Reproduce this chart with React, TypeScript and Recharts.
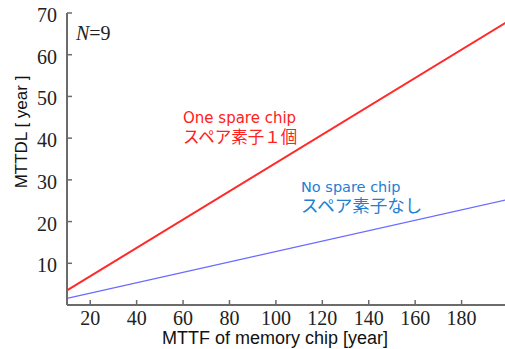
import React from 'react';
import { LineChart, Line, XAxis, YAxis } from 'recharts';

const mttfYears = [10, 200];
const oneSpareMttdl = [3.5, 68];
const noSpareMttdl = [1.6, 25.3];
const xTicks = [20, 40, 60, 80, 100, 120, 140, 160, 180];
const yTicks = [10, 20, 30, 40, 50, 60, 70];

const data = mttfYears.map((x, i) => ({ x, one: oneSpareMttdl[i], none: noSpareMttdl[i] }));

const FRAME = '#6b6b6b';
const SERIF = '"Liberation Serif", "DejaVu Serif", serif';
const SANS = '"Liberation Sans", Arial, sans-serif';
const LATIN = '"DejaVu Sans", "Noto Sans", sans-serif';
const CJK = '"Noto Sans CJK JP", "Noto Sans", sans-serif';

const BottomTick = (p: any) => (
  <g>
    <line x1={p.x} x2={p.x} y1={p.y} y2={p.y - 5} stroke={FRAME} strokeWidth={1.5} />
    <text x={p.x} y={p.y + 20} textAnchor="middle" fontFamily={SERIF} fontSize={20} fill="#222">
      {p.payload.value}
    </text>
  </g>
);
const TopTick = (p: any) => (
  <line x1={p.x} x2={p.x} y1={p.y} y2={p.y + 5} stroke={FRAME} strokeWidth={1.5} />
);
const LeftTick = (p: any) => (
  <g>
    <line x1={p.x} x2={p.x + 5} y1={p.y} y2={p.y} stroke={FRAME} strokeWidth={1.5} />
    <text x={p.x - 10} y={p.y + 9} textAnchor="end" fontFamily={SERIF} fontSize={20} fill="#222">
      {p.payload.value}
    </text>
  </g>
);
const RightTick = (p: any) => (
  <line x1={p.x} x2={p.x - 5} y1={p.y} y2={p.y} stroke={FRAME} strokeWidth={1.5} />
);

export default function App() {
  return (
    <div style={{ position: 'fixed', top: 0, left: 0, width: 505, height: 349, overflow: 'hidden', background: '#fff' }}>
      <LineChart width={510} height={349} data={data} margin={{ top: 13, right: 2, left: 0, bottom: 0 }}>
        <XAxis
          xAxisId="b"
          dataKey="x"
          type="number"
          domain={[10, 200]}
          ticks={xTicks}
          height={44}
          tickSize={0}
          tickMargin={0}
          tickLine={false}
          axisLine={{ stroke: FRAME, strokeWidth: 2 }}
          tick={BottomTick}
          interval={0}
        />
        <XAxis
          xAxisId="t"
          orientation="top"
          dataKey="x"
          type="number"
          domain={[10, 200]}
          ticks={xTicks}
          height={0}
          tickSize={0}
          tickMargin={0}
          tickLine={false}
          axisLine={{ stroke: FRAME, strokeWidth: 2 }}
          tick={TopTick}
          interval={0}
        />
        <YAxis
          yAxisId="l"
          type="number"
          domain={[0, 70]}
          ticks={yTicks}
          width={67}
          tickSize={0}
          tickMargin={0}
          tickLine={false}
          axisLine={{ stroke: FRAME, strokeWidth: 2 }}
          tick={LeftTick}
          interval={0}
        />
        <YAxis
          yAxisId="r"
          orientation="right"
          type="number"
          domain={[0, 70]}
          ticks={yTicks}
          width={0}
          tickSize={0}
          tickMargin={0}
          tickLine={false}
          axisLine={{ stroke: FRAME, strokeWidth: 2 }}
          tick={RightTick}
          interval={0}
        />
        <Line xAxisId="b" yAxisId="l" dataKey="one" stroke="#ff2a2a" strokeWidth={2} dot={false} isAnimationActive={false} />
        <Line xAxisId="b" yAxisId="l" dataKey="none" stroke="#6b6bff" strokeWidth={1.4} dot={false} isAnimationActive={false} />
        <text x={76} y={40} fontFamily={SERIF} fontSize={20} fill="#222">
          <tspan fontStyle="italic">N</tspan>=9
        </text>
        <text x={183} y={123} fontFamily={LATIN} fontSize={15} fill="#ff2020">One spare chip</text>
        <text x={183} y={143} fontFamily={CJK} fontSize={16.5} fill="#ff2020">スペア素子１個</text>
        <text x={301} y={192} fontFamily={LATIN} fontSize={14.5} fill="#1e80d4">No spare chip</text>
        <text x={301} y={212} fontFamily={CJK} fontSize={17.5} fill="#1e80d4">スペア素子なし</text>
        <text x={275} y={344} textAnchor="middle" fontFamily={SANS} fontSize={18} fill="#111">MTTF of memory chip [year]</text>
        <text x={27} y={132} textAnchor="middle" fontFamily={SANS} fontSize={17} fill="#111" transform="rotate(-90 27 132)">MTTDL [ year ]</text>
      </LineChart>
    </div>
  );
}
